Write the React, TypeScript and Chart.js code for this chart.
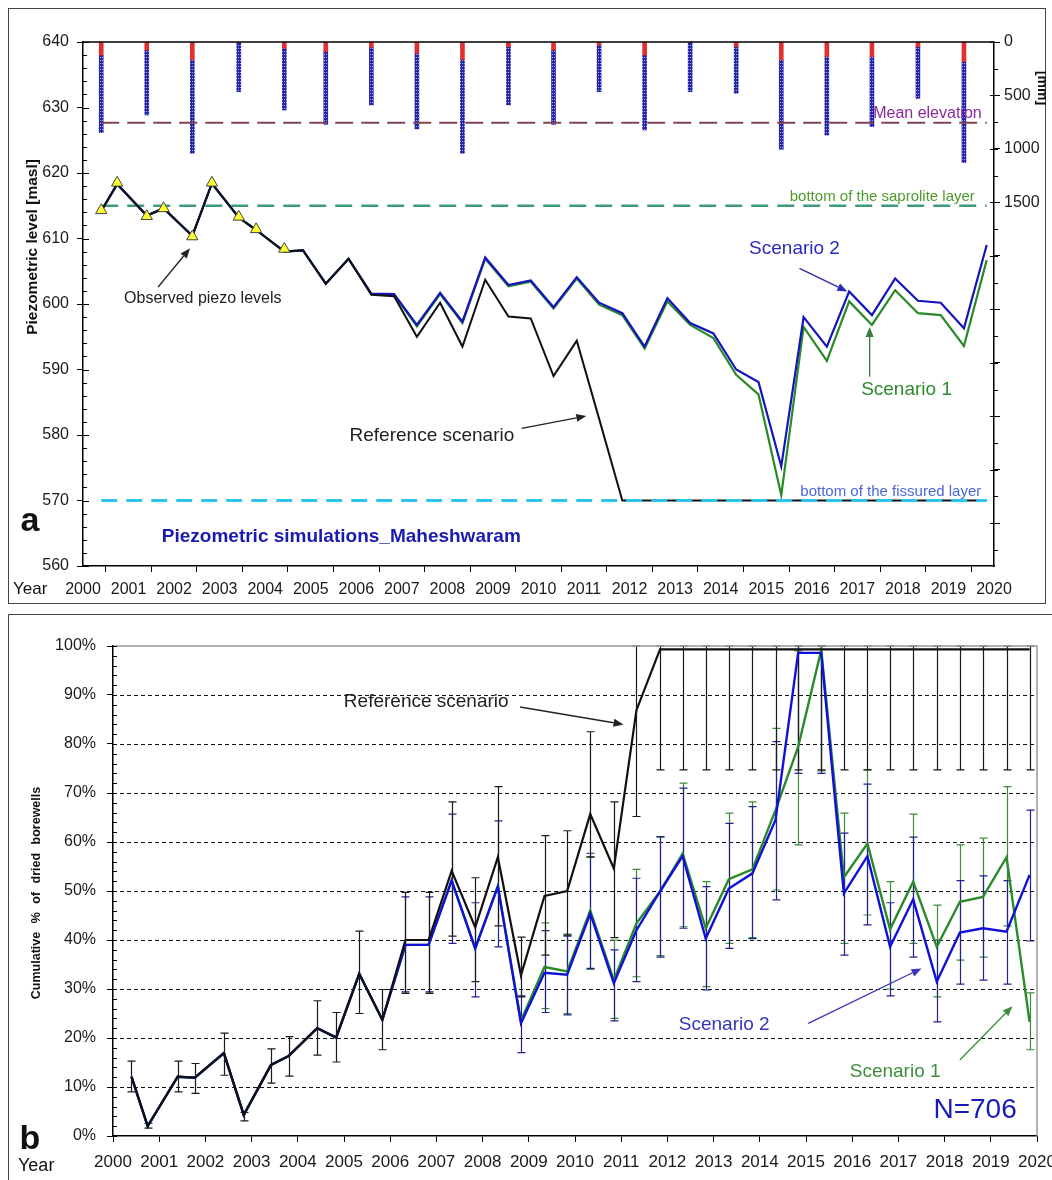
import React, { useEffect, useRef } from 'react';
import { Chart, registerables } from 'chart.js';

Chart.register(...registerables);

const FONT = '"Liberation Sans", Arial, Helvetica, sans-serif';

// ---------- shared time axis: two readings per year (decimal years) ----------
const times = [
  2000.4, 2000.75, 2001.4, 2001.77, 2002.4, 2002.83, 2003.42, 2003.8, 2004.42, 2004.83,
  2005.33, 2005.83, 2006.33, 2006.83, 2007.33, 2007.84, 2008.33, 2008.83, 2009.34, 2009.83,
  2010.33, 2010.84, 2011.33, 2011.84, 2012.33, 2012.83, 2013.33, 2013.84, 2014.34, 2014.83,
  2015.33, 2015.82, 2016.33, 2016.82, 2017.32, 2017.83, 2018.33, 2018.83, 2019.34, 2019.84,
];

// ---------- panel a : rainfall (mm, right axis) ----------
const rainTimes = [
  2000.4, 2001.4, 2002.4, 2003.42, 2004.42, 2005.33, 2006.33, 2007.33, 2008.33, 2009.34,
  2010.33, 2011.33, 2012.33, 2013.33, 2014.34, 2015.33, 2016.33, 2017.32, 2018.33, 2019.34,
];
const rainTotal = [848, 683, 1041, 465, 636, 770, 589, 813, 1041, 589, 770, 465, 823, 465, 480, 1003, 870, 792, 527, 1128];
const rainRed = [122, 75, 168, 6, 59, 90, 50, 106, 162, 44, 75, 28, 122, 6, 44, 168, 137, 137, 44, 184];
const meanRain = 755;
const rainTickValues = [0, 500, 1000, 1500, 2000, 2500, 3000, 3500, 4000, 4500];
const rainLabelled = [0, 500, 1000, 1500];

// ---------- panel a : piezometric levels (masl) ----------
const obsTimes = [2000.4, 2000.75, 2001.4, 2001.77, 2002.4, 2002.83, 2003.42, 2003.8, 2004.42];
const obsLevels = [614.3, 618.5, 613.4, 614.6, 610.3, 618.5, 613.3, 611.4, 608.4];
const refLevels = [
  614.2, 618.3, 613.5, 614.6, 610.4, 618.4, 613.2, 611.3, 608.0, 608.2,
  603.1, 606.9, 601.4, 601.2, 595.0, 600.2, 593.5, 603.7, 598.1, 597.8,
  589.0, 594.4, 582.5, 570.0, 570.0, 570.0, 570.0, 570.0, 570.0, 570.0,
  570.0, 570.0, 570.0, 570.0, 570.0, 570.0, 570.0, 570.0, 570.0, 570.0,
];
const scen2Levels = [
  614.2, 618.3, 613.5, 614.6, 610.4, 618.4, 613.2, 611.3, 608.0, 608.2,
  603.1, 606.9, 601.6, 601.5, 596.8, 601.7, 597.3, 607.1, 602.9, 603.6,
  599.5, 604.1, 600.2, 598.6, 593.5, 600.9, 597.1, 595.5, 590.0, 588.1,
  575.2, 598.0, 593.5, 601.9, 598.3, 603.9, 600.5, 600.2, 596.3, 609.0,
];
const scen1Levels = [
  614.2, 618.3, 613.5, 614.6, 610.4, 618.4, 613.2, 611.3, 608.0, 608.2,
  603.1, 606.9, 601.5, 601.4, 596.6, 601.5, 597.1, 606.9, 602.7, 603.4,
  599.3, 603.9, 599.9, 598.3, 593.2, 600.4, 596.8, 594.8, 589.2, 586.2,
  570.8, 596.5, 591.3, 600.4, 596.8, 602.1, 598.6, 598.3, 593.6, 606.7,
];
const saproliteLevel = 615;
const fissuredLevel = 570;

// ---------- panel b : cumulative % of dried borewells ----------
const refDried = [
  12.1, 2.0, 12.1, 11.9, 16.9, 4.3, 14.5, 16.3, 22.0, 20.1,
  33.1, 23.7, 40.0, 40.0, 54.1, 42.6, 56.9, 32.8, 49.0, 50.0,
  65.7, 54.6, 86.9, 99.3, 99.3, 99.3, 99.3, 99.3, 99.3, 99.3,
  99.3, 99.3, 99.3, 99.3, 99.3, 99.3, 99.3, 99.3, 99.3, 99.3,
];
const refLow = [
  9.0, 1.6, 9.0, 8.7, 12.4, 3.1, 10.8, 12.2, 16.5, 15.1,
  25.0, 17.6, 29.1, 29.1, 40.8, 31.5, 42.9, 28.4, 36.9, 41.0,
  56.9, 40.5, 65.2, 74.7, 74.7, 74.7, 74.7, 74.7, 74.7, 74.7,
  74.7, 74.7, 74.7, 74.7, 74.7, 74.7, 74.7, 74.7, 74.7, 74.7,
];
const refHigh = [
  15.3, 2.6, 15.3, 14.8, 21.0, 4.8, 17.8, 20.3, 27.6, 25.2,
  41.8, 29.9, 49.7, 49.7, 68.2, 52.7, 71.3, 40.6, 61.3, 62.3,
  82.5, 68.2, 100, 100, 100, 100, 100, 100, 100, 100,
  100, 100, 100, 100, 100, 100, 100, 100, 100, 100,
];
const scen2Dried = [
  12.1, 2.0, 12.1, 11.9, 16.9, 4.3, 14.5, 16.3, 22.0, 20.1,
  33.1, 23.7, 39.0, 39.0, 52.1, 38.3, 50.9, 23.0, 33.3, 32.9,
  45.4, 31.2, 42.0, 49.9, 57.1, 40.3, 50.5, 53.6, 64.5, 98.6,
  98.6, 49.5, 57.1, 38.6, 48.3, 31.5, 41.5, 42.4, 41.7, 53.3,
];
const scen2Low = [
  null, null, null, null, null, null, null, null, null, null,
  null, null, 29.4, 29.4, 39.3, 28.4, 38.6, 17.0, 25.2, 24.7,
  34.2, 23.5, 31.5, 36.5, 42.4, 29.8, 38.3, 40.3, 48.2, 74.0,
  74.0, 36.9, 43.1, 28.6, 36.5, 23.3, 31.0, 31.8, 31.0, 39.8,
];
const scen2High = [
  null, null, null, null, null, null, null, null, null, null,
  null, null, 48.8, 48.8, 65.7, 47.6, 64.3, 28.6, 41.9, 40.8,
  57.7, 38.0, 52.6, 61.1, 71.0, 50.9, 63.8, 67.2, 80.5, 100,
  100, 61.8, 71.8, 47.6, 61.0, 40.0, 52.1, 53.1, 52.1, 66.5,
];
const scen1Dried = [
  12.1, 2.0, 12.1, 11.9, 16.9, 4.3, 14.5, 16.3, 22.0, 20.1,
  33.1, 23.7, 39.0, 39.0, 52.1, 38.3, 51.0, 23.5, 34.5, 33.6,
  46.0, 31.8, 43.4, 49.9, 57.6, 42.4, 52.4, 54.4, 66.5, 79.4,
  99.2, 52.8, 59.7, 42.2, 51.9, 38.6, 47.8, 48.8, 56.9, 23.3,
];
const scen1Low = [
  null, null, null, null, null, null, null, null, null, null,
  null, null, null, null, null, null, null, null, 26.0, 25.0,
  34.0, 24.0, 32.5, 36.8, 42.7, 30.5, 39.3, 40.5, 50.2, 59.4,
  74.5, 39.3, 45.1, 30.0, 39.3, 28.4, 35.9, 36.5, 42.9, 17.6,
];
const scen1High = [
  null, null, null, null, null, null, null, null, null, null,
  null, null, null, null, null, null, null, null, 43.5, 41.2,
  57.0, 40.0, 54.4, 61.0, 72.0, 51.9, 65.9, 68.2, 83.2, 99.0,
  100, 65.9, 74.7, 51.9, 65.7, 47.1, 59.4, 60.8, 71.3, 29.2,
];

// ---------- annotations (data coordinates) ----------
const notesA = [
  { t: 'Observed piezo levels', x: 2002.63, y: 600.9, c: '#222', f: '16px', al: 'center' },
  { t: 'Reference scenario', x: 2007.66, y: 579.85, c: '#222', f: '19px', al: 'center' },
  { t: 'Scenario 2', x: 2015.62, y: 608.5, c: '#2a2ab8', f: '19px', al: 'center' },
  { t: 'Scenario 1', x: 2018.08, y: 586.9, c: '#2e8a2e', f: '19px', al: 'center' },
  { t: 'Mean elevation', x: 2019.73, y: 629.1, c: '#8a2a9a', f: '16px', al: 'right' },
  { t: 'bottom of the saprolite layer', x: 2019.58, y: 616.4, c: '#4f9a2a', f: '15px', al: 'right' },
  { t: 'bottom of the fissured layer', x: 2019.72, y: 571.3, c: '#4a68d8', f: '15px', al: 'right' },
  { t: 'Piezometric simulations_Maheshwaram', x: 2001.73, y: 564.5, c: '#1a1ab0', f: 'bold 19px', al: 'left' },
];
const arrowsA = [
  { x1: 2001.65, y1: 602.6, x2: 2002.35, y2: 608.5, c: '#222' },
  { x1: 2009.63, y1: 581.0, x2: 2011.05, y2: 582.9, c: '#222' },
  { x1: 2015.73, y1: 605.45, x2: 2016.78, y2: 601.9, c: '#2a2ab8' },
  { x1: 2017.27, y1: 588.9, x2: 2017.27, y2: 596.5, c: '#3a7a3a' },
];
const notesB = [
  { t: 'Reference scenario', x: 2006.78, y: 88.6, c: '#222', f: '19px', al: 'center' },
  { t: 'Scenario 2', x: 2013.23, y: 22.65, c: '#3535c0', f: '19px', al: 'center' },
  { t: 'Scenario 1', x: 2016.93, y: 13.1, c: '#3d8d3d', f: '19px', al: 'center' },
  { t: 'N=706', x: 2018.66, y: 5.3, c: '#1a1ab8', f: '28px', al: 'center' },
];
const arrowsB = [
  { x1: 2008.81, y1: 87.55, x2: 2011.05, y2: 84.0, c: '#222' },
  { x1: 2015.05, y1: 23.0, x2: 2017.5, y2: 34.2, c: '#3535c0' },
  { x1: 2018.33, y1: 15.5, x2: 2019.47, y2: 26.5, c: '#3d8d3d' },
];

function drawArrow(ctx: CanvasRenderingContext2D, x1: number, y1: number, x2: number, y2: number, color: string) {
  const head = 10;
  const ang = Math.atan2(y2 - y1, x2 - x1);
  const bx = x2 - head * Math.cos(ang);
  const by = y2 - head * Math.sin(ang);
  ctx.save();
  ctx.strokeStyle = color;
  ctx.fillStyle = color;
  ctx.lineWidth = 1.3;
  ctx.beginPath();
  ctx.moveTo(x1, y1);
  ctx.lineTo(bx, by);
  ctx.stroke();
  ctx.beginPath();
  ctx.moveTo(x2, y2);
  ctx.lineTo(bx + 4 * Math.sin(ang), by - 4 * Math.cos(ang));
  ctx.lineTo(bx - 4 * Math.sin(ang), by + 4 * Math.cos(ang));
  ctx.closePath();
  ctx.fill();
  ctx.restore();
}

function drawText(ctx: CanvasRenderingContext2D, t: string, x: number, y: number, font: string, color: string, align: CanvasTextAlign, rot = 0) {
  ctx.save();
  ctx.font = `${font} ${FONT}`;
  ctx.fillStyle = color;
  ctx.textAlign = align;
  ctx.textBaseline = 'middle';
  ctx.translate(x, y);
  if (rot) ctx.rotate(rot);
  ctx.fillText(t, 0, 0);
  ctx.restore();
}

const pts = (xs: number[], ys: (number | null)[]) => xs.map((x, i) => ({ x, y: ys[i] }));

export default function App() {
  const canvasA = useRef<HTMLCanvasElement>(null);
  const canvasB = useRef<HTMLCanvasElement>(null);

  useEffect(() => {
    // dotted blue pattern for rain bars
    const pc = document.createElement('canvas');
    pc.width = 2;
    pc.height = 3;
    const pctx = pc.getContext('2d')!;
    pctx.fillStyle = '#2626a8';
    pctx.fillRect(0, 0, 2, 3);
    pctx.fillStyle = '#a8a8ee';
    pctx.fillRect(0, 1, 1, 1);
    const rainPattern = canvasA.current!.getContext('2d')!.createPattern(pc, 'repeat');

    const tickFont = (size: number) => ({ family: FONT, size });

    const panelAPlugin = {
      id: 'panelA',
      afterDraw(chart: any) {
        const { ctx, chartArea: ca, scales } = chart;
        const sx = scales.x, sy = scales.y, sr = scales.rain;
        ctx.save();
        ctx.strokeStyle = '#444';
        ctx.lineWidth = 1;
        ctx.strokeRect(0.5, 0.5, chart.width - 1, chart.height - 1);
        ctx.strokeStyle = '#000';
        ctx.lineWidth = 1.5;
        ctx.beginPath();
        ctx.moveTo(ca.left, ca.top);
        ctx.lineTo(ca.right, ca.top);
        ctx.stroke();
        ctx.lineWidth = 1;
        for (let v = sy.min; v <= sy.max; v += 2) {
          const py = Math.round(sy.getPixelForValue(v)) + 0.5;
          ctx.beginPath();
          ctx.moveTo(ca.left, py);
          ctx.lineTo(ca.left + (v % 10 === 0 ? 6 : 4), py);
          ctx.stroke();
        }
        for (let v = sr.min; v <= sr.max; v += 250) {
          const py = Math.round(sr.getPixelForValue(v)) + 0.5;
          ctx.beginPath();
          ctx.moveTo(ca.right - (v % 500 === 0 ? 4 : 0), py);
          ctx.lineTo(ca.right + 4, py);
          ctx.stroke();
        }
        ctx.restore();
        for (const a of arrowsA) {
          drawArrow(ctx, sx.getPixelForValue(a.x1), sy.getPixelForValue(a.y1), sx.getPixelForValue(a.x2), sy.getPixelForValue(a.y2), a.c);
        }
        for (const n of notesA) {
          drawText(ctx, n.t, sx.getPixelForValue(n.x), sy.getPixelForValue(n.y), n.f, n.c, n.al as CanvasTextAlign);
        }
        drawText(ctx, 'Piezometric level [masl]', 25, 239, 'bold 15.5px', '#111', 'center', -Math.PI / 2);
        drawText(ctx, '[mm]', 1034, 80, 'bold 14px', '#111', 'center', Math.PI / 2);
        drawText(ctx, 'a', 22, 514, 'bold 34px', '#111', 'center');
        drawText(ctx, 'Year', 5, 581, '17px', '#111', 'left');
      },
    };

    const panelBPlugin = {
      id: 'panelB',
      beforeDatasetsDraw(chart: any) {
        const { ctx, chartArea: ca, scales } = chart;
        const sx = scales.x, sy = scales.y;
        ctx.save();
        ctx.strokeStyle = '#111';
        ctx.lineWidth = 1;
        ctx.setLineDash([4, 3]);
        for (let v = 10; v < 100; v += 10) {
          const py = Math.round(sy.getPixelForValue(v)) + 0.5;
          ctx.beginPath();
          ctx.moveTo(ca.left, py);
          ctx.lineTo(ca.right, py);
          ctx.stroke();
        }
        ctx.setLineDash([]);
        const dss = chart.data.datasets;
        for (let d = dss.length - 1; d >= 0; d--) {
          const ds = dss[d];
          if (!ds.errLow) continue;
          ctx.strokeStyle = ds.errColor;
          ctx.lineWidth = 1.2;
          ds.errLow.forEach((lo: number | null, i: number) => {
            const hi = ds.errHigh[i];
            if (lo == null || hi == null) return;
            const px = Math.round(sx.getPixelForValue(ds.data[i].x)) + 0.5;
            const p1 = sy.getPixelForValue(lo), p2 = sy.getPixelForValue(hi);
            ctx.beginPath();
            ctx.moveTo(px, p1);
            ctx.lineTo(px, p2);
            ctx.moveTo(px - 4, p1);
            ctx.lineTo(px + 4, p1);
            ctx.moveTo(px - 4, p2);
            ctx.lineTo(px + 4, p2);
            ctx.stroke();
          });
        }
        ctx.restore();
      },
      afterDraw(chart: any) {
        const { ctx, chartArea: ca, scales } = chart;
        const sx = scales.x, sy = scales.y;
        ctx.save();
        ctx.strokeStyle = '#444';
        ctx.lineWidth = 1;
        ctx.beginPath();
        ctx.moveTo(0.5, chart.height);
        ctx.lineTo(0.5, 0.5);
        ctx.lineTo(chart.width, 0.5);
        ctx.stroke();
        ctx.strokeStyle = '#9a9a9a';
        ctx.lineWidth = 1.5;
        ctx.beginPath();
        ctx.moveTo(ca.left, ca.top);
        ctx.lineTo(ca.right, ca.top);
        ctx.lineTo(ca.right, ca.bottom);
        ctx.stroke();
        ctx.strokeStyle = '#000';
        ctx.lineWidth = 1;
        for (let v = 0; v <= 100; v += 2) {
          const py = Math.round(sy.getPixelForValue(v)) + 0.5;
          ctx.beginPath();
          ctx.moveTo(ca.left, py);
          ctx.lineTo(ca.left + 4, py);
          ctx.stroke();
        }
        ctx.restore();
        for (const a of arrowsB) {
          drawArrow(ctx, sx.getPixelForValue(a.x1), sy.getPixelForValue(a.y1), sx.getPixelForValue(a.x2), sy.getPixelForValue(a.y2), a.c);
        }
        for (const n of notesB) {
          drawText(ctx, n.t, sx.getPixelForValue(n.x), sy.getPixelForValue(n.y), n.f, n.c, n.al as CanvasTextAlign);
        }
        ctx.save();
        (ctx as any).wordSpacing = '5px';
        drawText(ctx, 'Cumulative % of dried borewells', 29, 279, 'bold 12.5px', '#111', 'center', -Math.PI / 2);
        ctx.restore();
        drawText(ctx, 'b', 22, 526, 'bold 34px', '#111', 'center');
        drawText(ctx, 'Year', 10, 552, '18px', '#111', 'left');
      },
    };

    const lineDs = (label: string, data: any[], color: string, width: number, extra: any = {}) => ({
      type: 'line',
      label,
      data,
      borderColor: color,
      backgroundColor: color,
      borderWidth: width,
      pointRadius: 0,
      tension: 0,
      ...extra,
    });

    const chartA = new Chart(canvasA.current!, {
      type: 'line',
      data: {
        datasets: [
          lineDs('Bottom of the fissured layer', [{ x: times[0], y: fissuredLevel }, { x: times[times.length - 1], y: fissuredLevel }], '#2fc4ee', 3, { borderDash: [16, 9] }),
          {
            type: 'line',
            label: 'Observed piezo levels',
            data: pts(obsTimes, obsLevels),
            showLine: false,
            pointStyle: 'triangle',
            pointRadius: 6.5,
            backgroundColor: '#ffff33',
            borderColor: '#444',
            borderWidth: 1,
          },
          lineDs('Reference scenario', pts(times, refLevels), '#111', 2),
          lineDs('Scenario 2', pts(times, scen2Levels), '#1414bc', 2.2),
          lineDs('Scenario 1', pts(times, scen1Levels), '#2a8a2a', 2.2),
          lineDs('Bottom of the saprolite layer', [{ x: times[0], y: saproliteLevel }, { x: times[times.length - 1], y: saproliteLevel }], '#3e9a7c', 2.5, { borderDash: [17, 9] }),
          lineDs('Mean elevation', [{ x: times[0], y: meanRain }, { x: times[times.length - 1], y: meanRain }], '#7d4452', 1.8, { borderDash: [18, 8], yAxisID: 'rain' }),
          {
            type: 'bar',
            label: 'Rain (early)',
            data: rainTimes.map((x, i) => ({ x, y: [0, rainRed[i]] })),
            backgroundColor: '#e23030',
            yAxisID: 'rain',
            grouped: false,
            barThickness: 4,
            maxBarThickness: 4,
            borderWidth: 0,
          },
          {
            type: 'bar',
            label: 'Rain',
            data: rainTimes.map((x, i) => ({ x, y: [rainRed[i], rainTotal[i]] })),
            backgroundColor: rainPattern || '#3a3ab0',
            yAxisID: 'rain',
            grouped: false,
            barThickness: 4,
            maxBarThickness: 4,
            borderWidth: 0,
          },
        ] as any,
      },
      options: {
        responsive: false,
        maintainAspectRatio: false,
        animation: false,
        events: [],
        layout: { padding: { left: 0, right: 0, top: 34, bottom: 0 } },
        plugins: { legend: { display: false }, tooltip: { enabled: false } },
        scales: {
          x: {
            type: 'linear',
            min: 2000,
            max: 2020,
            offset: false,
            ticks: { stepSize: 1, autoSkip: false, maxRotation: 0, padding: 8, color: '#1a1a1a', font: tickFont(16), callback: (v: any) => String(v) },
            grid: { drawOnChartArea: false, tickLength: 6, tickColor: '#000' },
            border: { color: '#000', width: 1.5 },
            afterFit: (s: any) => { s.height = 38; },
          },
          y: {
            type: 'linear',
            position: 'left',
            min: 560,
            max: 640,
            ticks: { stepSize: 10, padding: 8, color: '#1a1a1a', font: tickFont(16) },
            grid: { drawOnChartArea: false, tickLength: 6, tickColor: '#000' },
            border: { color: '#000', width: 1.5 },
            afterFit: (s: any) => { s.width = 75; },
          },
          rain: {
            type: 'linear',
            position: 'right',
            min: 0,
            max: 4900,
            reverse: true,
            afterBuildTicks: (s: any) => { s.ticks = rainTickValues.map((value) => ({ value })); },
            ticks: { padding: 4, color: '#1a1a1a', font: tickFont(16), callback: (v: any) => (rainLabelled.includes(Number(v)) ? String(v) : '') },
            grid: { drawOnChartArea: false, tickLength: 6, tickColor: '#000' },
            border: { color: '#000', width: 1.5 },
            afterFit: (s: any) => { s.width = 52; },
          },
        },
      } as any,
      plugins: [panelAPlugin],
    });

    const chartB = new Chart(canvasB.current!, {
      type: 'line',
      data: {
        datasets: [
          lineDs('Reference scenario', pts(times, refDried), '#111', 2.2, { errLow: refLow, errHigh: refHigh, errColor: '#1a1a1a' }),
          lineDs('Scenario 2', pts(times, scen2Dried), '#1010d8', 2.4, { errLow: scen2Low, errHigh: scen2High, errColor: '#22228a' }),
          lineDs('Scenario 1', pts(times, scen1Dried), '#2a8a2a', 2.4, { errLow: scen1Low, errHigh: scen1High, errColor: '#3d8c3d' }),
        ] as any,
      },
      options: {
        responsive: false,
        maintainAspectRatio: false,
        animation: false,
        events: [],
        layout: { padding: { left: 0, right: 45, top: 32, bottom: 0 } },
        plugins: { legend: { display: false }, tooltip: { enabled: false } },
        scales: {
          x: {
            type: 'linear',
            min: 2000,
            max: 2020,
            offset: false,
            ticks: { stepSize: 1, autoSkip: false, maxRotation: 0, padding: 10, color: '#1a1a1a', font: tickFont(17), callback: (v: any) => String(v) },
            grid: { drawOnChartArea: false, tickLength: 6, tickColor: '#000' },
            border: { color: '#000', width: 1.5 },
            afterFit: (s: any) => { s.height = 44; },
          },
          y: {
            type: 'linear',
            position: 'left',
            min: 0,
            max: 100,
            ticks: { stepSize: 10, padding: 11, color: '#1a1a1a', font: tickFont(16), callback: (v: any) => `${v}%` },
            grid: { drawOnChartArea: false, tickLength: 6, tickColor: '#000' },
            border: { color: '#000', width: 1.5 },
            afterFit: (s: any) => { s.width = 105; },
          },
        },
      } as any,
      plugins: [panelBPlugin],
    });

    return () => {
      chartA.destroy();
      chartB.destroy();
    };
  }, []);

  return (
    <div style={{ position: 'fixed', left: 0, top: 0, width: 1052, height: 1180, overflow: 'hidden', background: '#fff' }}>
      <canvas ref={canvasA} width={1038} height={596} style={{ position: 'absolute', left: 8, top: 8, width: 1038, height: 596 }} />
      <canvas ref={canvasB} width={1074} height={566} style={{ position: 'absolute', left: 8, top: 614, width: 1074, height: 566 }} />
    </div>
  );
}
